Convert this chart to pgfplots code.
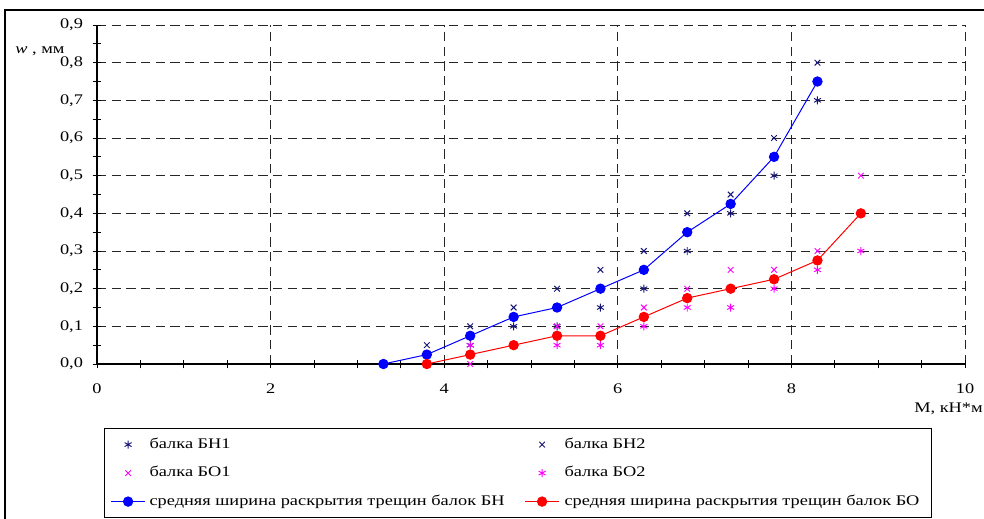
\documentclass[border=0pt]{standalone}
\usepackage{fontspec}
\setmainfont{Liberation Serif}[FakeStretch=1.25]
\usepackage{pgfplots}
\pgfplotsset{compat=1.18}
\definecolor{bnnavy}{RGB}{20,20,120}
\definecolor{bomag}{RGB}{255,0,255}

\begin{document}
\begin{tikzpicture}[font=\fontsize{11}{13}\selectfont]
\path[use as bounding box] (0pt,0pt) rectangle (738pt,388.5pt);
\begin{scope}
\clip (0pt,0pt) rectangle (738pt,388.5pt);
\draw[line width=1.2pt] (3.75pt,-15pt) rectangle (760pt,381pt);
\end{scope}

\begin{axis}[
    at={(72.75pt,115.5pt)}, anchor=south west,
    scale only axis,
    width=651pt, height=254.25pt,
    xmin=0, xmax=10, ymin=0, ymax=0.9,
    clip=false,
    axis lines*=left,
    axis line style={line width=1pt, -},
    xtick={0,2,4,6,8,10},
    minor x tick num=3,
    ytick={0,0.1,0.2,0.3,0.4,0.5,0.6,0.7,0.8,0.9},
    minor y tick num=1,
    tick align=center,
    major tick length=6.5pt,
    minor tick length=6.5pt,
    tick style={black, line width=0.6pt},
    grid=major,
    major grid style={black!85, line width=0.7pt, dash pattern=on 7pt off 4pt},
    /pgf/number format/assume math mode=true,
    ticklabel style={font=\fontsize{11}{13}\selectfont},
    xticklabel style={yshift=-8pt},
    yticklabel style={xshift=-3.75pt, /pgf/number format/.cd, fixed, fixed zerofill, precision=1, use comma},
    xlabel={М, кН*м},
    xlabel style={at={(axis description cs:1.0207,-0.1327)}, anchor=east, inner sep=0pt},
    ylabel={{\itshape w} , мм},
    every axis y label/.style={at={(axis description cs:-0.0657,0.9233)}, anchor=center},
    legend columns=2,
    legend image code/.code={
        \path (0pt,0pt) (25.5pt,0pt);
        \draw[mark repeat=2, mark phase=2, #1] plot coordinates {(0pt,0pt) (12.75pt,0pt) (25.5pt,0pt)};
    },
    legend style={
        at={(axis description cs:0.00806,-0.18879)}, anchor=north west,
        draw=black, line width=0.9pt, fill=white,
        inner xsep=4.5pt, inner ysep=1.3pt,
        row sep=0pt,
        nodes={inner sep=0pt, text depth={}, minimum height=21.375pt},
        cells={anchor=west},
    },
]

\addplot[only marks, mark=asterisk, mark size=3pt, color=bnnavy, line width=0.7pt]
coordinates {(3.3,0) (3.8,0) (4.3,0.05) (4.8,0.1) (5.3,0.1) (5.8,0.15) (6.3,0.2) (6.8,0.3) (7.3,0.4) (7.8,0.5) (8.3,0.7)};
\addlegendentry{\makebox[284.25pt][l]{\hspace*{3pt}балка БН1\vphantom{Ару}}}

\addplot[only marks, mark=x, mark size=3pt, color=bnnavy, line width=0.7pt]
coordinates {(3.3,0) (3.8,0.05) (4.3,0.1) (4.8,0.15) (5.3,0.2) (5.8,0.25) (6.3,0.3) (6.8,0.4) (7.3,0.45) (7.8,0.6) (8.3,0.8)};
\addlegendentry{\makebox[274.5pt][l]{\hspace*{3.75pt}балка БН2\vphantom{Ару}}}

\addplot[only marks, mark=x, mark size=3pt, color=bomag, line width=0.7pt]
coordinates {(3.8,0) (4.3,0) (4.8,0.05) (5.3,0.1) (5.8,0.1) (6.3,0.15) (6.8,0.2) (7.3,0.25) (7.8,0.25) (8.3,0.3) (8.8,0.5)};
\addlegendentry{\makebox[284.25pt][l]{\hspace*{3pt}балка БО1\vphantom{Ару}}}

\addplot[only marks, mark=asterisk, mark size=3pt, color=bomag, line width=0.7pt]
coordinates {(3.8,0) (4.3,0.05) (4.8,0.05) (5.3,0.05) (5.8,0.05) (6.3,0.1) (6.8,0.15) (7.3,0.15) (7.8,0.2) (8.3,0.25) (8.8,0.3)};
\addlegendentry{\makebox[274.5pt][l]{\hspace*{3.75pt}балка БО2\vphantom{Ару}}}

% средние значения
\addplot[blue, line width=0.75pt, mark=*, mark size=3.5pt, mark options={solid, fill=blue}]
coordinates {(3.3,0) (3.8,0.025) (4.3,0.075) (4.8,0.125) (5.3,0.15) (5.8,0.2) (6.3,0.25) (6.8,0.35) (7.3,0.425) (7.8,0.55) (8.3,0.75)};
\addlegendentry{\makebox[284.25pt][l]{\hspace*{3pt}средняя ширина раскрытия трещин балок БН\vphantom{Ару}}}

\addplot[red, line width=0.75pt, mark=*, mark size=3.5pt, mark options={solid, fill=red}]
coordinates {(3.8,0) (4.3,0.025) (4.8,0.05) (5.3,0.075) (5.8,0.075) (6.3,0.125) (6.8,0.175) (7.3,0.2) (7.8,0.225) (8.3,0.275) (8.8,0.4)};
\addlegendentry{\makebox[274.5pt][l]{\hspace*{3.75pt}средняя ширина раскрытия трещин балок БО\vphantom{Ару}}}

\end{axis}
\end{tikzpicture}
\end{document}
